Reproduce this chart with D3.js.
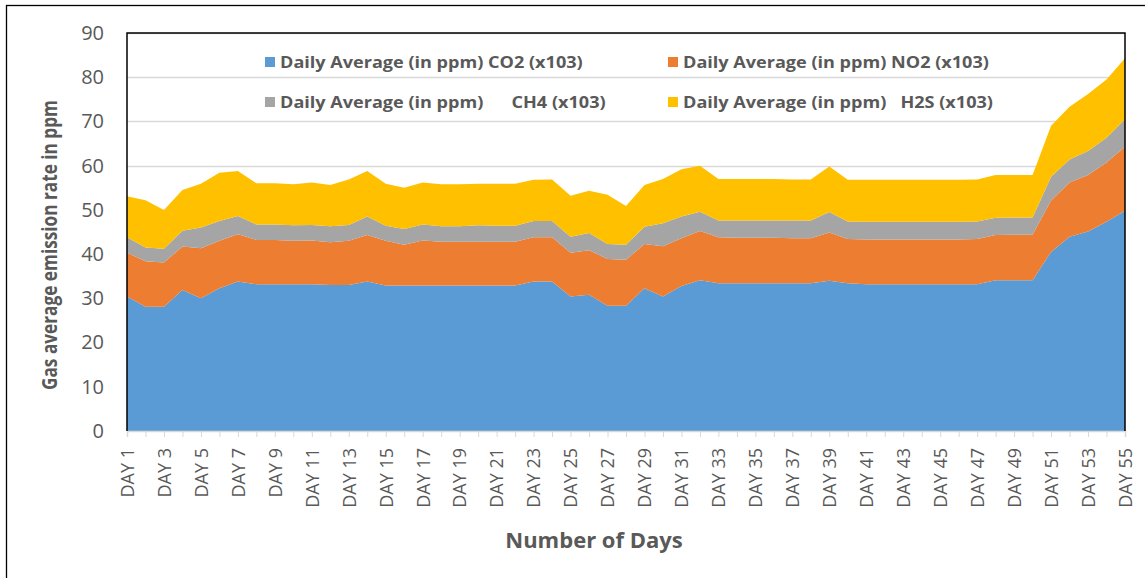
<!DOCTYPE html>
<html>
<head>
<meta charset="utf-8">
<script src="https://cdn.jsdelivr.net/npm/d3@7"></script>
<style>
  body { margin: 0; background: #fff; }
  text { font-family: "Open Sans", "DejaVu Sans", sans-serif; fill: #595959; }
  .axis-title { font-weight: bold; }
  .legend text { font-weight: bold; white-space: pre; }
</style>
</head>
<body>
<svg width="1145" height="578"></svg>
<script>
var days = d3.range(1, 56).map(function(d){ return 'DAY ' + d; });

var co2 = [30.4, 28.1, 28.1, 31.9, 30.0, 32.3, 33.8, 33.2, 33.2, 33.2, 33.2, 33.0, 33.0, 33.8, 32.9,
           32.9, 32.9, 32.9, 32.9, 32.9, 32.9, 32.9, 33.8, 33.8, 30.4, 30.8, 28.3, 28.3, 32.3, 30.4,
           32.8, 34.1, 33.4, 33.4, 33.4, 33.4, 33.4, 33.4, 34.0, 33.4, 33.2, 33.2, 33.2, 33.2, 33.2,
           33.2, 33.2, 34.1, 34.1, 34.1, 40.5, 43.9, 45.1, 47.3, 49.8];
var no2 = [9.9, 10.3, 10.0, 9.8, 11.3, 10.7, 10.7, 10.0, 10.0, 9.8, 9.9, 9.7, 10.0, 10.5, 10.1,
           9.2, 10.2, 9.9, 9.9, 9.9, 9.9, 9.9, 10.0, 10.0, 9.9, 10.1, 10.6, 10.4, 10.0, 11.4,
           10.8, 11.1, 10.4, 10.3, 10.3, 10.3, 10.2, 10.2, 10.9, 10.0, 10.1, 10.1, 10.1, 10.1, 10.1,
           10.1, 10.2, 10.2, 10.3, 10.3, 11.6, 12.3, 12.8, 13.4, 14.5];
var ch4 = [3.5, 3.1, 3.1, 3.6, 4.7, 4.5, 4.1, 3.5, 3.5, 3.5, 3.5, 3.6, 3.6, 4.2, 3.4,
           3.6, 3.6, 3.5, 3.5, 3.7, 3.6, 3.6, 3.7, 3.7, 3.6, 3.9, 3.4, 3.4, 3.9, 5.2,
           4.9, 4.4, 3.8, 3.9, 3.9, 3.9, 4.0, 4.0, 4.6, 4.0, 4.0, 4.0, 4.0, 4.0, 4.0,
           4.0, 4.0, 3.9, 3.9, 3.9, 5.4, 5.2, 5.4, 5.6, 6.2];
var h2s = [9.3, 10.7, 8.8, 9.2, 9.9, 10.9, 10.2, 9.3, 9.3, 9.3, 9.6, 9.3, 10.3, 10.3, 9.5,
           9.3, 9.5, 9.5, 9.5, 9.4, 9.5, 9.5, 9.3, 9.4, 9.3, 9.5, 11.1, 8.8, 9.4, 10.0,
           10.7, 10.4, 9.4, 9.4, 9.4, 9.4, 9.3, 9.3, 10.3, 9.4, 9.5, 9.5, 9.5, 9.5, 9.5,
           9.5, 9.5, 9.7, 9.6, 9.6, 11.5, 11.9, 12.9, 13.2, 13.8];

var keys = ['co2', 'no2', 'ch4', 'h2s'];
var names = ['Daily Average (in ppm) CO2 (x103)', 'Daily Average (in ppm) NO2 (x103)',
             'Daily Average (in ppm)      CH4 (x103)', 'Daily Average (in ppm)   H2S (x103)'];
var colors = ['#5b9bd5', '#ed7d31', '#a5a5a5', '#ffc000'];
var yTicks = [0, 10, 20, 30, 40, 50, 60, 70, 80, 90];

var rows = days.map(function(d, i){
    return {day: d, co2: co2[i], no2: no2[i], ch4: ch4[i], h2s: h2s[i]};
});

var svg = d3.select('svg'),
    margin = {top: 33, right: 20, bottom: 147, left: 127},
    width = 1125 - margin.left,
    height = 431 - margin.top;

// outer chart border
svg.append('rect')
    .attr('x', 6.5).attr('y', 5.5)
    .attr('width', 1145).attr('height', 600)
    .attr('fill', 'none').attr('stroke', '#000').attr('stroke-width', 1.3);

var x = d3.scalePoint().domain(days).range([0, width]),
    y = d3.scaleLinear().domain([0, 90]).range([height, 0]);

var g = svg.append('g')
    .attr('transform', 'translate(' + margin.left + ',' + margin.top + ')');

// gridlines
g.selectAll('.grid').data(yTicks.slice(1)).enter().append('line')
    .attr('x1', 0).attr('x2', width)
    .attr('y1', function(d){ return Math.round(y(d)) + 0.5; })
    .attr('y2', function(d){ return Math.round(y(d)) + 0.5; })
    .attr('stroke', '#d9d9d9').attr('stroke-width', 1.5);

var stack = d3.stack().keys(keys);
var area = d3.area()
    .x(function(d){ return x(d.data.day); })
    .y0(function(d){ return y(d[0]); })
    .y1(function(d){ return y(d[1]); });

g.selectAll('.layer').data(stack(rows)).enter().append('path')
    .attr('class', 'layer')
    .attr('fill', function(d, i){ return colors[i]; })
    .attr('d', area);

// x axis
var xAxis = g.append('g')
    .attr('transform', 'translate(0,' + height + ')')
    .call(d3.axisBottom(x).tickSize(6).tickFormat(function(d, i){ return i % 2 === 0 ? d : ''; }));
xAxis.select('.domain').attr('stroke', '#d9d9d9').attr('stroke-width', 1.5);
xAxis.selectAll('.tick line').attr('stroke', '#d9d9d9');
xAxis.selectAll('.tick text')
    .attr('transform', 'rotate(-90)')
    .attr('x', -17).attr('y', 0).attr('dy', '0.35em')
    .style('text-anchor', 'end')
    .style('font-size', '18px')
    .attr('fill', '#595959');

// y axis
var yAxis = g.append('g')
    .call(d3.axisLeft(y).tickValues(yTicks).tickSize(0).tickPadding(23));
yAxis.select('.domain').remove();
yAxis.selectAll('.tick text').style('font-size', '20px').attr('fill', '#595959');

// plot frame: dark left, top and right edges
g.append('path')
    .attr('d', 'M0,' + height + 'V0H' + width + 'V' + height)
    .attr('fill', 'none').attr('stroke', '#000').attr('stroke-width', 1.5);

// axis titles
svg.append('text')
    .attr('class', 'axis-title')
    .attr('transform', 'translate(50,245) rotate(-90)')
    .attr('text-anchor', 'middle').attr('dy', '0.35em')
    .attr('textLength', 290).attr('lengthAdjust', 'spacingAndGlyphs')
    .style('font-size', '21px')
    .text('Gas average emission rate in ppm');

svg.append('text')
    .attr('class', 'axis-title')
    .attr('x', 594).attr('y', 540).attr('dy', '0.35em')
    .attr('text-anchor', 'middle')
    .style('font-size', '22px')
    .text('Number of Days');

// legend
var legendPos = [[265, 62], [668, 62], [265, 102], [668, 102]];
var legend = svg.append('g').attr('class', 'legend');
var item = legend.selectAll('g').data(names).enter().append('g')
    .attr('transform', function(d, i){ return 'translate(' + legendPos[i][0] + ',' + legendPos[i][1] + ')'; });
item.append('rect')
    .attr('x', 0).attr('y', -5).attr('width', 10).attr('height', 10)
    .attr('fill', function(d, i){ return colors[i]; });
item.append('text')
    .attr('transform', 'translate(15,0) scale(1.13,1)')
    .attr('dy', '0.35em')
    .style('font-size', '16px')
    .text(function(d){ return d; });
</script>
</body>
</html>
